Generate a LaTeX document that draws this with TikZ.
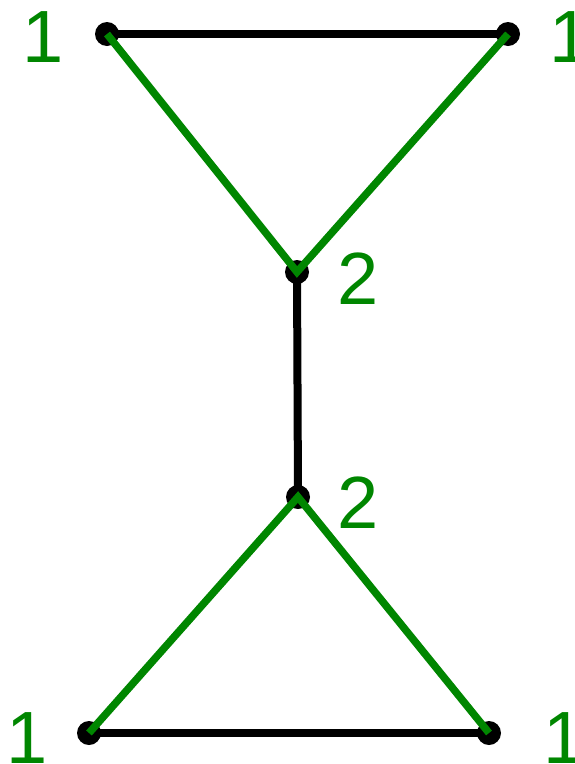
\documentclass[tikz,border=0pt]{standalone}
\usepackage{fontspec}
\setmainfont{Liberation Sans}
\definecolor{grn}{RGB}{0,134,0}
\begin{document}
\begin{tikzpicture}[x=1pt,y=-1pt,
  vtx/.style={circle,fill=black,inner sep=0pt,minimum size=24pt},
  blk/.style={line width=8pt,black},
  gln/.style={line width=7.5pt,grn},
  lab/.style={anchor=base,text=grn,font=\fontsize{74}{74}\selectfont,inner sep=0pt}]
\useasboundingbox (0,0) rectangle (574,764);
\coordinate (tl) at (107,34);
\coordinate (tr) at (508,34);
\coordinate (u) at (297,272);
\coordinate (l) at (298,497);
\coordinate (bl) at (89,733);
\coordinate (br) at (489,733);
\draw[blk] (tl) -- (tr);
\draw[blk] (u) -- (l);
\draw[blk] (bl) -- (br);
\foreach \p in {tl,tr,u,l,bl,br} \node[vtx] (n\p) at (\p) {};
\draw[gln] (ntl.center) -- (nu.center) -- (ntr.center);
\draw[gln] (nbl.center) -- (nl.center) -- (nbr.center);
\node[lab] (a1) at (43,62) {1};
\node[lab] (a2) at (570,62) {1};
\node[lab] (a3) at (358,304) {2};
\node[lab] (a4) at (358,528) {2};
\node[lab] (a5) at (27,763) {1};
\node[lab] (a6) at (564,763) {1};
\end{tikzpicture}
\end{document}
